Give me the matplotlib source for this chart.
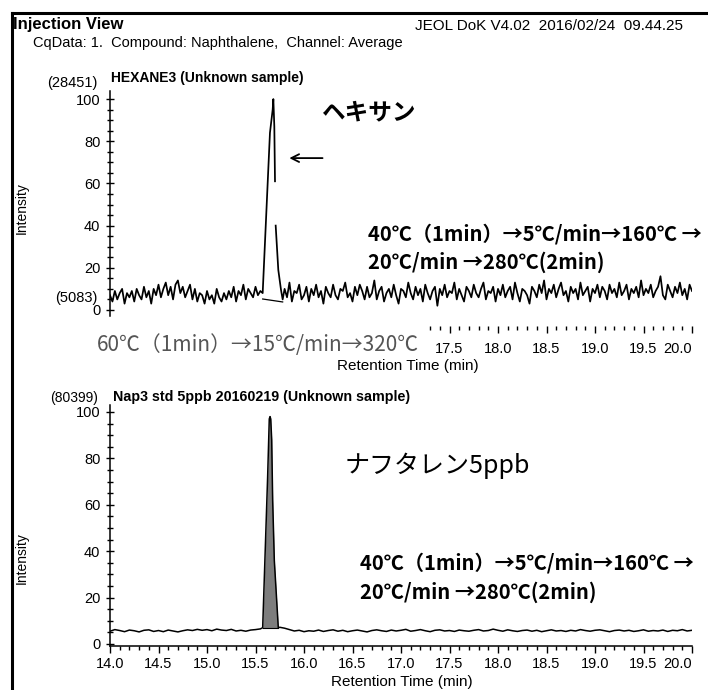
import numpy as np
import matplotlib
matplotlib.use('Agg')
import matplotlib.pyplot as plt
from matplotlib.lines import Line2D
from matplotlib.ticker import MultipleLocator, FixedLocator

plt.rcParams['font.family'] = ['Liberation Sans', 'Noto Sans CJK JP', 'DejaVu Sans']
CJK = ['Noto Sans CJK JP', 'DejaVu Sans']

# --- HEXANE3 run (relative intensity, %) ---
top_step = 0.025
top_pre_start = 14.0
top_pre = [7, 4, 9, 5, 8, 10, 3, 8, 6, 9,
           4, 10, 7, 5, 11, 6, 9, 3, 10, 7,
           12, 6, 10, 13, 7, 11, 5, 12, 14, 8,
           11, 6, 9, 12, 5, 10, 4, 8, 7, 3,
           9, 5, 7, 3, 10, 6, 4, 8, 5, 9,
           6, 11, 4, 9, 7, 12, 5, 10, 8, 6,
           11, 7, 9]
top_peak_t = [15.574, 15.649, 15.677, 15.684, 15.694, 15.701, 15.704, 15.708, 15.735, 15.763, 15.780]
top_peak_y = [8, 84, 95, 100, 87, 61, np.nan, 40, 19, 9.5, 5]
top_post_start = 15.8
top_post = [10, 6, 13, 4, 9, 8, 12, 5, 7, 11,
            4, 10, 7, 12, 6, 9, 3, 11, 8, 6,
            12, 7, 5, 10, 9, 13, 6, 8, 4, 11,
            7, 12, 9, 5, 11, 6, 8, 14, 5, 9,
            11, 4, 8, 10, 6, 12, 7, 3, 10, 9,
            6, 13, 8, 5, 11, 7, 10, 4, 12, 8,
            5, 9, 11, 2, 10, 7, 12, 6, 9, 8,
            13, 5, 10, 7, 4, 11, 9, 6, 12, 8,
            6, 10, 13, 5, 9, 8, 11, 4, 10, 7,
            12, 6, 9, 11, 5, 13, 8, 4, 10, 9,
            7, 3, 11, 9, 6, 12, 8, 14, 5, 10,
            8, 12, 6, 10, 13, 7, 9, 4, 11, 8,
            10, 5, 13, 7, 9, 11, 4, 10, 8, 12,
            6, 11, 9, 5, 12, 8, 10, 6, 13, 7,
            9, 12, 5, 10, 8, 11, 6, 14, 7, 10,
            8, 12, 6, 9, 11, 16, 7, 5, 12, 9,
            6, 11, 8, 13, 7, 10, 5, 12, 9]
top_base_t = [15.574, 15.780]
top_base_y = [5.2, 3.8]

# --- Nap3 std 5ppb run ---
bot_step = 0.05
bot_pre_start = 14.0
bot_pre = [5.5, 6.2, 5.8, 5.3, 6.0, 5.7, 5.2, 5.9, 6.1, 5.4,
           5.8, 5.3, 6.0, 5.6, 5.2, 5.7, 6.1, 5.8, 6.3, 5.9,
           6.2, 5.7, 6.4, 6.0, 5.8, 6.3, 5.6, 5.9, 5.5, 6.0,
           6.2, 6.5]
bot_peak_t = [15.574, 15.600, 15.625, 15.642, 15.650, 15.657, 15.667, 15.677, 15.694, 15.718, 15.735]
bot_peak_y = [7, 40, 72, 97, 98, 97, 88, 62, 36, 19, 7]
bot_post_start = 15.75
bot_post = [7.2, 6.8, 6.2, 5.6, 5.9, 5.3, 5.7, 5.5, 6.0, 5.4,
            5.8, 6.1, 5.5, 5.9, 5.3, 5.7, 6.0, 5.6, 5.2, 5.8,
            6.1, 5.7, 5.4, 6.0, 5.6, 5.9, 6.3, 5.5, 5.8, 6.2,
            5.7, 5.3, 5.9, 6.1, 5.6, 5.8, 5.4, 6.0, 5.7, 5.5,
            5.9, 6.2, 5.6, 5.8, 6.4, 5.9, 5.5, 6.1, 5.7, 5.4,
            5.8, 6.0, 5.5, 5.9, 5.3, 5.7, 6.1, 5.6, 5.8, 5.4,
            5.9, 5.6, 6.2, 5.8, 5.5, 5.9, 6.1, 5.7, 5.3, 5.8,
            6.0, 5.6, 5.9, 5.4, 5.7, 6.1, 5.5, 5.8, 5.6, 6.0,
            5.4, 5.9, 5.7, 6.2, 5.6, 5.9]
bot_base_t = [15.574, 15.735]
bot_base_y = [7, 7]

x_major = [14.0, 14.5, 15.0, 15.5, 16.0, 16.5, 17.0, 17.5, 18.0, 18.5, 19.0, 19.5, 20.0]
y_major = [0, 20, 40, 60, 80, 100]

W, H = 708, 690


def fx(x):
    return x / W


def fy(y):
    return 1 - y / H


def trace(pre_start, pre, peak_t, peak_y, post_start, post, step):
    t = np.concatenate([pre_start + step * np.arange(len(pre)), peak_t,
                        post_start + step * np.arange(len(post))])
    y = np.concatenate([pre, peak_y, post])
    return t, y


def style_axis(ax, ylim):
    ax.set_xlim(14.0, 20.0)
    ax.set_ylim(*ylim)
    for s in ['top', 'right']:
        ax.spines[s].set_visible(False)
    ax.spines['left'].set_linewidth(1.1)
    ax.spines['bottom'].set_linewidth(1.1)
    ax.yaxis.set_major_locator(FixedLocator(y_major))
    ax.yaxis.set_minor_locator(MultipleLocator(5))
    ax.tick_params(axis='y', which='major', direction='inout', length=6, width=1.0, labelsize=10.5, pad=4)
    ax.tick_params(axis='y', which='minor', direction='inout', length=4, width=1.0)
    ax.patch.set_alpha(0)


fig = plt.figure(figsize=(7.08, 6.9), dpi=100)

ax1 = fig.add_axes([fx(110), fy(316.3), (692 - 110) / W, (316.3 - 90.6) / H])
ax2 = fig.add_axes([fx(110), fy(646.3), (692 - 110) / W, (646.3 - 405) / H])

# upper chromatogram (no fill, manual baseline under the peak)
t1, y1 = trace(top_pre_start, top_pre, top_peak_t, top_peak_y, top_post_start, top_post, top_step)
ax1.plot(t1, y1, color='black', lw=1.25)
ax1.plot(top_base_t, top_base_y, color='black', lw=0.9)
style_axis(ax1, (-3, 104))
ax1.spines['bottom'].set_visible(False)
ax1.spines['bottom'].set_position(('outward', 7.2))
ax1.xaxis.set_major_locator(FixedLocator([v for v in x_major if v >= 17.5]))
ax1.xaxis.set_minor_locator(FixedLocator([round(17.3 + 0.1 * i, 1) for i in range(28)
                                          if round(17.3 + 0.1 * i, 1) not in x_major]))
ax1.tick_params(axis='x', which='major', direction='out', length=5, width=1.0, labelsize=10.5, pad=6)
ax1.tick_params(axis='x', which='minor', direction='out', length=3, width=1.0)
ax1.set_xticklabels(['%.1f' % v for v in x_major if v >= 17.5])
ax1.set_yticklabels(['0', '20', '40', '60', '80', '100'])
ax1.annotate('', xy=(15.82, 72), xytext=(16.22, 72),
             arrowprops=dict(arrowstyle='->', lw=1.3, color='black', mutation_scale=14))

# lower chromatogram, integrated peak shaded
t2, y2 = trace(bot_pre_start, bot_pre, bot_peak_t, bot_peak_y, bot_post_start, bot_post, bot_step)
ax2.fill_between(bot_peak_t, bot_peak_y, np.interp(bot_peak_t, bot_base_t, bot_base_y),
                 color='#7d7d7d', lw=0)
ax2.plot(t2, y2, color='black', lw=1.1)
ax2.plot(bot_base_t, bot_base_y, color='black', lw=0.8)
style_axis(ax2, (-1, 103))
ax2.xaxis.set_major_locator(FixedLocator(x_major))
ax2.xaxis.set_minor_locator(MultipleLocator(0.1))
ax2.tick_params(axis='x', which='major', direction='out', length=5, width=1.0, labelsize=10.5, pad=3)
ax2.tick_params(axis='x', which='minor', direction='out', length=3, width=1.0)
ax2.set_xticklabels(['%.1f' % v for v in x_major])
ax2.get_xticklabels()[-1].set_horizontalalignment('right')
ax1.get_xticklabels()[-1].set_horizontalalignment('right')

# page frame
fig.add_artist(Line2D([fx(12), fx(12)], [fy(13), fy(690)], color='black', lw=2.2))
fig.add_artist(Line2D([fx(12), fx(706)], [fy(13), fy(13)], color='black', lw=2.2))

# header
fig.text(fx(13), fy(25), 'Injection View', fontsize=12, fontweight='bold', va='center')
fig.text(fx(683), fy(26), 'JEOL DoK V4.02  2016/02/24  09.44.25', fontsize=11, ha='right', va='center')
fig.text(fx(33), fy(43), 'CqData: 1.  Compound: Naphthalene,  Channel: Average', fontsize=10.5, va='center')

# upper panel labels
fig.text(fx(98), fy(83), '(28451)', fontsize=10.5, ha='right', va='center')
fig.text(fx(111), fy(78), 'HEXANE3 (Unknown sample)', fontsize=10, fontweight='bold', va='center')
fig.text(fx(98), fy(298), '(5083)', fontsize=10.5, ha='right', va='center')
fig.text(fx(22), fy(208), 'Intensity', fontsize=10, rotation=90, ha='center', va='center')
fig.text(fx(322), fy(113), 'ヘキサン', fontsize=17, fontweight='bold', va='center')
fig.text(fx(368), fy(234), '40℃（1min）→5℃/min→160℃ →', family=CJK, fontsize=14.5,
         fontweight='bold', va='center')
fig.text(fx(368), fy(262), '20℃/min →280℃(2min)', family=CJK, fontsize=14.5,
         fontweight='bold', va='center')
fig.text(fx(97), fy(345), '60℃（1min）→15℃/min→320℃', family=CJK, fontsize=15,
         color='#555555', va='center')
fig.text(fx(408), fy(366), 'Retention Time (min)', fontsize=11, ha='center', va='center')

# lower panel labels
fig.text(fx(98), fy(398), '(80399)', fontsize=10, ha='right', va='center')
fig.text(fx(113), fy(397), 'Nap3 std 5ppb 20160219 (Unknown sample)', fontsize=10.3, fontweight='bold', va='center')
fig.text(fx(22), fy(558), 'Intensity', fontsize=10, rotation=90, ha='center', va='center')
fig.text(fx(345), fy(466), 'ナフタレン5ppb', family=CJK, fontsize=18, va='center')
fig.text(fx(360), fy(563), '40℃（1min）→5℃/min→160℃ →', family=CJK, fontsize=14.5,
         fontweight='bold', va='center')
fig.text(fx(360), fy(592), '20℃/min →280℃(2min)', family=CJK, fontsize=14.5,
         fontweight='bold', va='center')
fig.text(fx(402), fy(682), 'Retention Time (min)', fontsize=11, ha='center', va='center')

fig.savefig('out.png', dpi=100)
